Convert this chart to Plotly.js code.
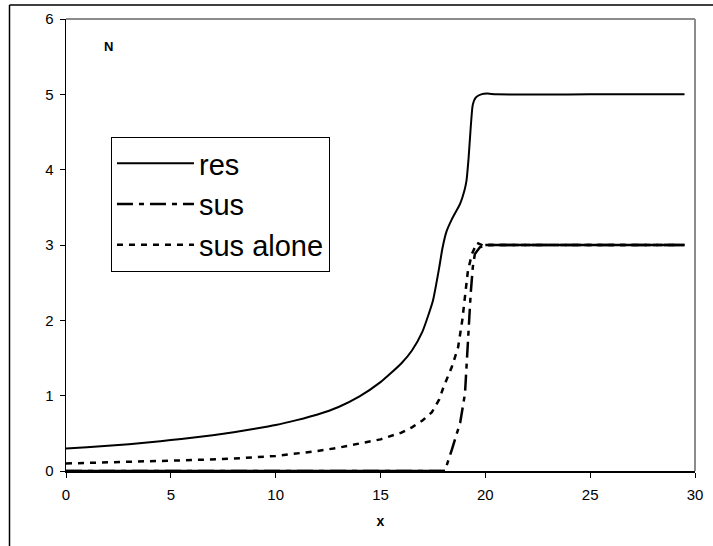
<!DOCTYPE html>
<html>
<head>
<meta charset="utf-8">
<script src="https://cdn.plot.ly/plotly-3.0.1.min.js"></script>
<style>html,body{margin:0;padding:0;background:#fff;}#chart{width:713px;height:546px;}</style>
</head>
<body>
<div id="chart"></div>
<script>
// ---- data ----
var resX = [0, 1, 2, 3, 4, 5, 6, 7, 8, 9, 10, 11, 12, 13, 14, 15, 15.5, 16, 16.5, 17, 17.5, 17.8, 17.95, 18.15, 18.4, 18.8, 19.0, 19.1, 19.2, 19.3, 19.4, 19.55, 19.8, 20.1, 20.5, 25, 29.5];
var resY = [0.30, 0.315, 0.335, 0.355, 0.38, 0.41, 0.44, 0.475, 0.515, 0.56, 0.61, 0.675, 0.75, 0.85, 0.99, 1.18, 1.30, 1.43, 1.60, 1.85, 2.26, 2.70, 2.95, 3.18, 3.34, 3.55, 3.72, 3.85, 4.15, 4.55, 4.86, 4.96, 5.0, 5.01, 5.0, 5.0, 5.0];

var susX = [0, 10, 17.9, 18.07, 18.4, 18.8, 19.03, 19.12, 19.2, 19.3, 19.4, 19.5, 19.74, 20.0, 25, 29.5];
var susY = [0, 0, 0, 0.0, 0.28, 0.64, 1.03, 1.47, 1.91, 2.35, 2.70, 2.88, 2.97, 3.0, 3.0, 3.0];

var aloneX = [0, 2, 4, 6, 8, 10, 11, 12, 13, 14, 15, 16, 16.5, 17, 17.45, 17.8, 18.0, 18.4, 18.7, 18.9, 19.03, 19.17, 19.36, 19.6, 19.9, 20.2, 25, 29.5];
var aloneY = [0.10, 0.11, 0.13, 0.145, 0.165, 0.20, 0.23, 0.265, 0.31, 0.36, 0.42, 0.51, 0.58, 0.67, 0.78, 0.95, 1.11, 1.38, 1.64, 2.0, 2.35, 2.66, 2.88, 3.03, 2.99, 3.0, 3.0, 3.0];

var seriesNames = ['res', 'sus', 'sus alone'];
var xTicks = [0, 5, 10, 15, 20, 25, 30];
var yTicks = [0, 1, 2, 3, 4, 5, 6];

var FONT = 'Liberation Sans, Arial, sans-serif';

// flat parts of "sus" look solid in the reference
function pick(xs, ys, test) {
  var ox = [], oy = [];
  for (var i = 0; i < xs.length; i++) { if (test(ys[i])) { ox.push(xs[i]); oy.push(ys[i]); } }
  return {x: ox, y: oy};
}
var susLow = pick(susX, susY, function (v) { return v === 0; });
var susTop = pick(susX, susY, function (v) { return v >= 3; });

var traces = [
  {x: resX, y: resY, name: seriesNames[0], type: 'scatter', mode: 'lines',
   line: {color: '#000', width: 2, shape: 'spline', smoothing: 0.5}},
  {x: susX, y: susY, name: seriesNames[1], type: 'scatter', mode: 'lines',
   line: {color: '#000', width: 2.5, dash: '16px,6px,5px,6px'}},
  {x: aloneX, y: aloneY, name: seriesNames[2], type: 'scatter', mode: 'lines',
   line: {color: '#000', width: 2.5, dash: '6px,6px'}},
  {x: susLow.x, y: susLow.y, type: 'scatter', mode: 'lines', showlegend: false,
   line: {color: '#000', width: 2.5}},
  {x: susTop.x, y: susTop.y, type: 'scatter', mode: 'lines', showlegend: false,
   line: {color: '#000', width: 2.5}}
];

var layout = {
  width: 713, height: 546,
  margin: {l: 66, r: 18, t: 19, b: 75, pad: 0},
  paper_bgcolor: '#fff', plot_bgcolor: '#fff',
  font: {family: FONT, color: '#000', size: 15},
  showlegend: true,
  legend: {
    x: 0.0715, y: 0.739, xanchor: 'left', yanchor: 'top',
    bgcolor: '#fff', bordercolor: '#000', borderwidth: 1,
    font: {family: FONT, size: 29, color: '#000'},
    itemwidth: 77, tracegroupgap: 0, entrywidth: 140
  },
  xaxis: {
    range: [0, 30], tickvals: xTicks, ticktext: xTicks.map(String),
    showgrid: false, zeroline: false, showline: true, linecolor: '#000', linewidth: 1.5,
    ticks: 'outside', ticklen: 5, tickcolor: '#000', tickwidth: 1,
    tickfont: {family: FONT, size: 15, color: '#000'}, ticklabelstandoff: 4,
    title: {text: '<b>x</b>', font: {family: FONT, size: 14, color: '#000'}, standoff: 14}
  },
  yaxis: {
    range: [0, 6], tickvals: yTicks, ticktext: yTicks.map(String),
    showgrid: false, zeroline: false, showline: true, linecolor: '#000', linewidth: 1.5,
    ticks: 'outside', ticklen: 5, tickcolor: '#000', tickwidth: 1,
    tickfont: {family: FONT, size: 15, color: '#000'}, ticklabelstandoff: 3
  },
  annotations: [
    {text: '<b>N</b>', xref: 'paper', yref: 'paper', x: (108 - 66) / 629, y: (471 - 47) / 452,
     xanchor: 'center', yanchor: 'middle', showarrow: false,
     font: {family: FONT, size: 13, color: '#000'}}
  ],
  shapes: [
    {type: 'line', xref: 'paper', yref: 'paper', x0: 0, x1: 1, y0: 1, y1: 1,
     line: {color: '#8c8c8c', width: 2}},
    {type: 'line', xref: 'paper', yref: 'paper', x0: 1, x1: 1, y0: 0, y1: 1,
     line: {color: '#8c8c8c', width: 2}},
    {type: 'line', xref: 'paper', yref: 'paper', x0: (9.5 - 66) / 629, x1: (713 - 66) / 629, y0: (471 - 5) / 452, y1: (471 - 5) / 452,
     line: {color: '#000', width: 1.5}},
    {type: 'line', xref: 'paper', yref: 'paper', x0: (9.5 - 66) / 629, x1: (9.5 - 66) / 629, y0: (471 - 5) / 452, y1: (471 - 546) / 452,
     line: {color: '#000', width: 1.5}}
  ]
};

Plotly.newPlot('chart', traces, layout, {displayModeBar: false, staticPlot: true});
</script>
</body>
</html>
